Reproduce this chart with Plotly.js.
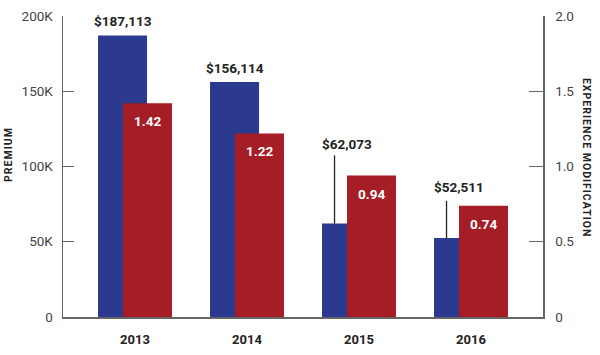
<!DOCTYPE html>
<html>
<head>
<meta charset="utf-8">
<script src="https://cdn.plot.ly/plotly-3.0.1.min.js"></script>
<style>
html,body{margin:0;padding:0;background:#fff;}
#chart{width:600px;height:355px;}
g.annotation.axis-title-ann text{letter-spacing:1px;}
</style>
</head>
<body>
<div id="chart"></div>
<script>
// ---- data ----
const years = ['2013', '2014', '2015', '2016'];
const premium = [187113, 156114, 62073, 52511];
const expMod = [1.42, 1.22, 0.94, 0.74];
const premiumTickVals = [0, 50000, 100000, 150000, 200000];
const premiumTickText = ['0', '50K', '100K', '150K', '200K'];
const modTickVals = [0, 0.5, 1.0, 1.5, 2.0];
const modTickText = ['0', '0.5', '1.0', '1.5', '2.0'];

// ---- label placement (pixels) ----
const labelLift = [14, 14, 80, 51];     // label centre above bar top
const leaderLen = [0, 0, 68, 37];       // leader line length above bar top

const BLUE = '#2b3a8f', RED = '#a51d25';
const barW = 0.4375, blueOff = -0.33, redOff = -0.107;
const blueC = blueOff + barW / 2, redC = redOff + barW / 2;
const blueVisC = blueOff + (redOff - blueOff) / 2;
const PREM_MAX = 200000, PLOT_H = 300;

const fmt = v => '$' + v.toLocaleString('en-US');

const traces = [
  {type: 'bar', x: years, y: premium, width: barW, offset: blueOff, yaxis: 'y',
   marker: {color: BLUE}, hoverinfo: 'skip'},
  {type: 'bar', x: years, y: expMod, width: barW, offset: redOff, yaxis: 'y2',
   marker: {color: RED}, hoverinfo: 'skip'}
];

const annotations = [];
const shapes = [];
years.forEach((yr, i) => {
  annotations.push({x: i + blueC, y: premium[i], xref: 'x', yref: 'y',
    text: fmt(premium[i]), showarrow: false, yanchor: 'middle', xanchor: 'center',
    yshift: labelLift[i],
    font: {family: 'Roboto', size: 13.5, color: '#222', weight: 700}});
  annotations.push({x: i + redC, y: expMod[i], xref: 'x', yref: 'y2',
    text: expMod[i].toFixed(2), showarrow: false, yanchor: 'middle', xanchor: 'center',
    yshift: -18,
    font: {family: 'Roboto', size: 13.5, color: '#fff', weight: 700}});
  if (leaderLen[i] > 0) {
    shapes.push({type: 'line', xref: 'x', yref: 'y', layer: 'above',
      x0: i + blueVisC, x1: i + blueVisC,
      y0: premium[i], y1: premium[i] + leaderLen[i] * PREM_MAX / PLOT_H,
      line: {color: '#222', width: 1.3}});
  }
});

annotations.push({xref: 'paper', yref: 'paper', x: -0.1146, y: 0.54,
  xanchor: 'center', yanchor: 'middle',
  text: 'PREMIUM', textangle: -90, showarrow: false,
  font: {family: 'Roboto', size: 10.5, color: '#222', weight: 700}});
annotations.push({xref: 'paper', yref: 'paper', x: 1.0917, y: 0.53,
  xanchor: 'center', yanchor: 'middle',
  text: 'EXPERIENCE MODIFICATION', textangle: 90, showarrow: false,
  font: {family: 'Roboto', size: 10.5, color: '#222', weight: 700}});

const tickFont = {family: 'Roboto', size: 13.5, color: '#444', weight: 400};

const layout = {
  width: 600, height: 355,
  margin: {l: 63, r: 57, t: 16, b: 38, pad: 0},
  paper_bgcolor: '#fff', plot_bgcolor: '#fff',
  showlegend: false,
  barmode: 'overlay',
  xaxis: {type: 'category', range: [-0.643, 3.643], showgrid: false, zeroline: false,
    showline: true, linecolor: '#666', linewidth: 1.5, ticks: '',
    ticklabelstandoff: 10,
    tickfont: {family: 'Roboto', size: 13, color: '#222', weight: 700}},
  yaxis: {range: [0, PREM_MAX], tickvals: premiumTickVals, ticktext: premiumTickText,
    showgrid: false, zeroline: false, showline: true, linecolor: '#666', linewidth: 1.5,
    ticks: 'inside', ticklen: 11, tickcolor: '#666', tickwidth: 1.3,
    ticklabelstandoff: 6, tickfont: tickFont},
  yaxis2: {overlaying: 'y', side: 'right', range: [0, 2], tickvals: modTickVals, ticktext: modTickText,
    showgrid: false, zeroline: false, showline: true, linecolor: '#666', linewidth: 1.5,
    ticks: 'inside', ticklen: 14, tickcolor: '#666', tickwidth: 1.3,
    ticklabelstandoff: 8, tickfont: tickFont},
  annotations: annotations,
  shapes: shapes
};

Plotly.newPlot('chart', traces, layout, {displayModeBar: false, staticPlot: true}).then(gd => {
  const n = annotations.length;
  document.querySelectorAll('g.annotation').forEach(g => {
    const idx = +g.getAttribute('data-index');
    if (idx >= n - 2) g.classList.add('axis-title-ann');
  });
});
</script>
</body>
</html>
